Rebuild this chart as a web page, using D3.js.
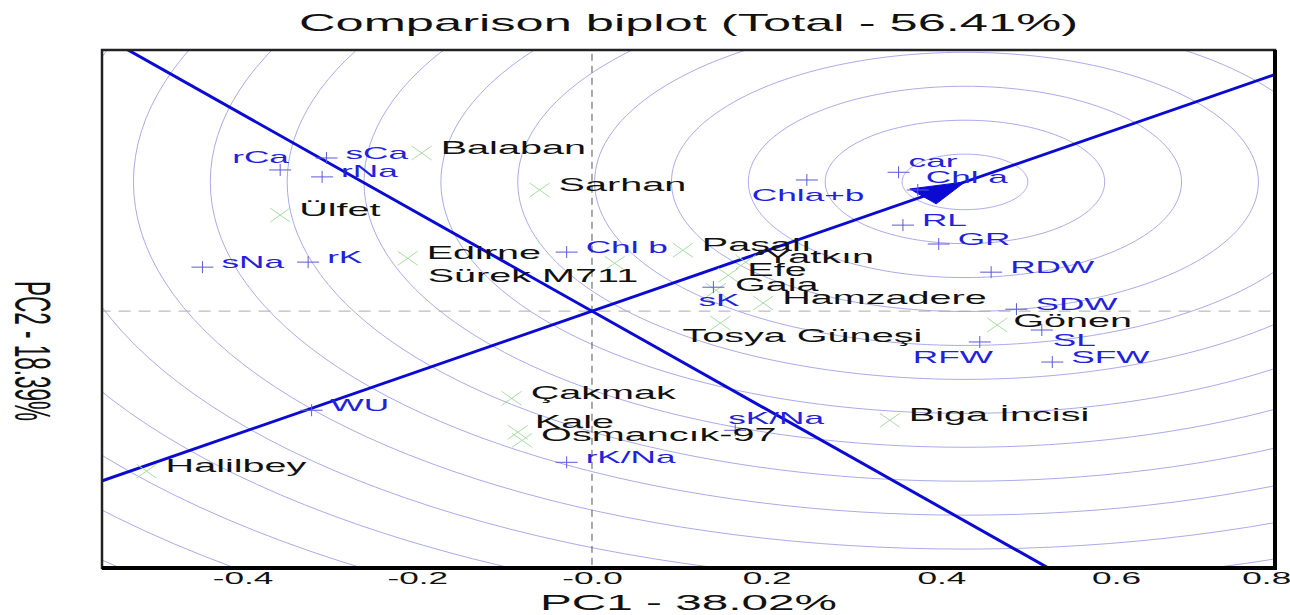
<!DOCTYPE html>
<html lang="en">
<head>
<meta charset="UTF-8">
<title>Comparison biplot</title>
<script src="https://d3js.org/d3.v7.min.js"></script>
<style>
  body { margin: 0; background: #fff; }
  text { font-family: "Liberation Sans", Arial, sans-serif; }
</style>
</head>
<body>
<div class="chart"></div>
<script>
// genotypes (green x, black labels)
const genotypes = ["Balaban", "Sarhan", "Ülfet", "Edirne", "Sürek M711", "Paşalı", "Yatkın", "Efe", "Gala",
  "Hamzadere", "Tosya Güneşi", "Gönen", "Çakmak", "Kale", "Osmancık-97", "Biga İncisi", "Halilbey"];
const genoPC1 = [-0.195, -0.060, -0.357, -0.211, 0.026, 0.104, 0.176, 0.156, 0.142,
  0.196, 0.147, 0.464, -0.092, -0.085, -0.080, 0.341, -0.510];
const genoPC2 = [0.410, 0.314, 0.249, 0.137, 0.124, 0.158, 0.127, 0.093, 0.054,
  0.021, -0.031, -0.036, -0.226, -0.314, -0.335, -0.283, -0.415];

// traits (blue +, blue labels)
const traits = ["rCa", "sCa", "rNa", "sNa", "rK", "Chl b", "Chla+b", "car", "Chl a", "RL", "GR", "RDW",
  "SDW", "SL", "SFW", "RFW", "sK", "sK/Na", "rK/Na", "WU"];
const traitPC1 = [-0.357, -0.304, -0.309, -0.446, -0.325, -0.029, 0.246, 0.351, 0.373, 0.356, 0.397, 0.457,
  0.486, 0.515, 0.527, 0.444, 0.139, 0.164, -0.029, -0.321];
const traitPC2 = [0.366, 0.397, 0.348, 0.114, 0.127, 0.153, 0.340, 0.360, 0.314, 0.223, 0.174, 0.101,
  0.005, -0.049, -0.132, -0.080, 0.062, -0.309, -0.392, -0.257];

const xTicks = [-0.4, -0.2, 0, 0.2, 0.4, 0.6, 0.8];
const xTickLabels = ["-0.4", "-0.2", "-0.0", "0.2", "0.4", "0.6", "0.8"];

// ideal point on the average-environment axis, rings around it
const idealPoint = [0.427, 0.335];
const ringFirst = 0.072, ringStep = 0.088, ringCount = 16;

const titleText = "Comparison biplot (Total - 56.41%)";
const xTitle = "PC1 - 38.02%";
const yTitle = "PC2 - 18.39%";

const w = 1290, h = 615;
const pLeft = 102, pRight = 1275, pTop = 50, pBottom = 568;
const stretch = 2.2; // picture is stretched horizontally

// label offsets in px (label start relative to marker)
const defaultNudge = [19, -5];
const nudge = {
  "rCa": [-48, -13], "Chla+b": [-55, 15], "car": [10, -11], "Chl a": [8, -13],
  "SL": [11, 10], "RFW": [-67, 15], "sK": [-15, 13], "sK/Na": [-7, -12],
  "Sürek M711": [-187, 13], "Tosya Güneşi": [-38, 13], "Kale": [17, -10], "Gönen": [16, -4]
};

const x = d3.scaleLinear().domain([-0.561, 0.782]).range([pLeft, pRight]);
const y = d3.scaleLinear().domain([-0.666, 0.677]).range([pBottom, pTop]);

const svg = d3.select(".chart").append("svg")
  .attr("width", w).attr("height", h);

svg.append("defs").append("clipPath").attr("id", "plot")
  .append("rect").attr("x", pLeft).attr("y", pTop)
  .attr("width", pRight - pLeft).attr("height", pBottom - pTop);

const plot = svg.append("g").attr("clip-path", "url(#plot)");

// concentric rings
const ring = d3.line().x(d => x(d[0])).y(d => y(d[1])).curve(d3.curveLinearClosed);
const rings = d3.range(ringCount).map(k => {
  const r = ringFirst + k * ringStep;
  return d3.range(0, 360, 2).map(a => [idealPoint[0] + r * Math.cos(a * Math.PI / 180),
                                       idealPoint[1] + r * Math.sin(a * Math.PI / 180)]);
});
plot.selectAll(".ring").data(rings).join("path")
  .attr("class", "ring")
  .attr("d", ring)
  .attr("fill", "none")
  .attr("stroke", "#a0a0e6")
  .attr("stroke-width", 0.9);

// dashed zero lines
plot.append("line")
  .attr("x1", x(-1)).attr("x2", x(1)).attr("y1", y(0)).attr("y2", y(0))
  .attr("stroke", "#aaa").attr("stroke-dasharray", "12,8");
plot.append("line")
  .attr("x1", x(0)).attr("x2", x(0)).attr("y1", y(-1)).attr("y2", y(1))
  .attr("stroke", "#555").attr("stroke-dasharray", "7,5");

// average environment axis and its perpendicular
const len = Math.hypot(idealPoint[0], idealPoint[1]);
const u = [idealPoint[0] / len, idealPoint[1] / len];
const n = [-u[1], u[0]];
const axisLine = d3.line().x(d => x(d[0])).y(d => y(d[1]));
plot.append("path")
  .attr("d", axisLine([[-3 * u[0], -3 * u[1]], [3 * u[0], 3 * u[1]]]))
  .attr("stroke", "#0a0ad2").attr("stroke-width", 3).attr("fill", "none");
plot.append("path")
  .attr("d", axisLine([[-3 * n[0], -3 * n[1]], [3 * n[0], 3 * n[1]]]))
  .attr("stroke", "#0a0ad2").attr("stroke-width", 3).attr("fill", "none");

// arrow head at the ideal point
const base = [idealPoint[0] - 0.061 * u[0], idealPoint[1] - 0.061 * u[1]];
const head = [idealPoint,
  [base[0] + 0.0245 * n[0], base[1] + 0.0245 * n[1]],
  [base[0] - 0.0245 * n[0], base[1] - 0.0245 * n[1]]];
plot.append("path")
  .attr("d", axisLine(head) + "Z")
  .attr("fill", "#0a0ad2").attr("stroke", "#0a0ad2");

// markers
const genoData = genotypes.map((g, i) => ({ name: g, pc1: genoPC1[i], pc2: genoPC2[i] }));
const traitData = traits.map((t, i) => ({ name: t, pc1: traitPC1[i], pc2: traitPC2[i] }));

plot.selectAll(".geno").data(genoData).join("path")
  .attr("class", "geno")
  .attr("transform", d => `translate(${x(d.pc1)},${y(d.pc2)})`)
  .attr("d", "M-10,-7L10,7M-10,7L10,-7")
  .attr("stroke", "#a9dca4").attr("stroke-width", 1);

plot.selectAll(".trait").data(traitData).join("path")
  .attr("class", "trait")
  .attr("transform", d => `translate(${x(d.pc1)},${y(d.pc2)})`)
  .attr("d", "M-11,0H11M0,-6V6")
  .attr("stroke", "#5a5ad8").attr("stroke-width", 1);

// labels
function labelPos(d) {
  const o = nudge[d.name] || defaultNudge;
  return `translate(${x(d.pc1) + o[0]},${y(d.pc2) + o[1]}) scale(${stretch},1)`;
}
svg.selectAll(".glabel").data(genoData).join("text")
  .attr("class", "glabel")
  .attr("transform", labelPos)
  .attr("dominant-baseline", "central")
  .attr("font-size", 18)
  .attr("fill", "#111")
  .text(d => d.name);

svg.selectAll(".tlabel").data(traitData).join("text")
  .attr("class", "tlabel")
  .attr("transform", labelPos)
  .attr("dominant-baseline", "central")
  .attr("font-size", 16)
  .attr("fill", "#2222dd")
  .text(d => d.name);

// frame
svg.append("rect")
  .attr("x", pLeft).attr("y", pTop)
  .attr("width", pRight - pLeft).attr("height", pBottom - pTop)
  .attr("fill", "none").attr("stroke", "#222").attr("stroke-width", 2.5);
svg.append("path")
  .attr("d", `M${pLeft},${pBottom}H${pRight}V${pTop}`)
  .attr("fill", "none").attr("stroke", "#000").attr("stroke-width", 4);

// x axis (labels only)
const xAxis = svg.append("g")
  .attr("transform", `translate(0,${pBottom})`)
  .call(d3.axisBottom(x).tickValues(xTicks).tickFormat((d, i) => xTickLabels[i])
    .tickSize(0).tickPadding(5));
xAxis.select(".domain").remove();
xAxis.selectAll("text")
  .attr("font-size", 16)
  .attr("font-family", "Liberation Sans, Arial, sans-serif")
  .attr("fill", "#111")
  .attr("transform", `scale(2.2,1)`)
  .attr("text-anchor", d => x(d) > w - 20 ? "end" : "middle");

// titles
svg.append("text")
  .attr("transform", `translate(${(pLeft + pRight) / 2},31) scale(${stretch},1)`)
  .attr("text-anchor", "middle")
  .attr("font-size", 23)
  .attr("fill", "#111")
  .text(titleText);

svg.append("text")
  .attr("transform", `translate(${(pLeft + pRight) / 2},610) scale(2.22,1)`)
  .attr("text-anchor", "middle")
  .attr("font-size", 21.5)
  .attr("fill", "#111")
  .text(xTitle);

svg.append("text")
  .attr("transform", `translate(32,351) scale(${stretch},1) rotate(90)`)
  .attr("text-anchor", "middle")
  .attr("dominant-baseline", "central")
  .attr("font-size", 22.5)
  .attr("fill", "#111")
  .text(yTitle);
</script>
</body>
</html>
